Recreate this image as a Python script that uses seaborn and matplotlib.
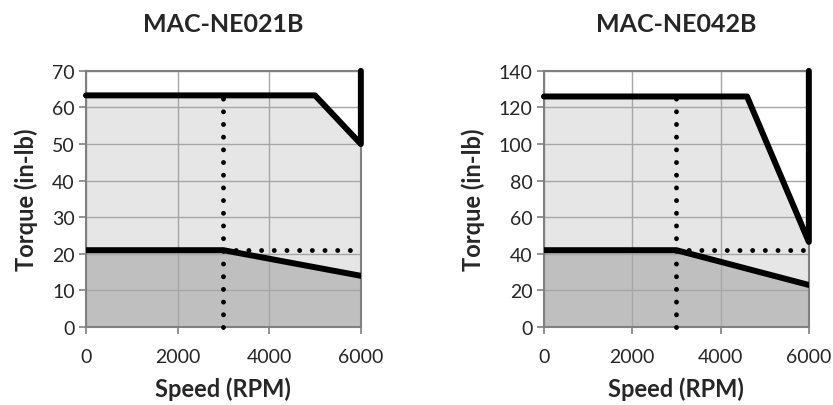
import numpy as np
import pandas as pd
import matplotlib
matplotlib.use('Agg')
import matplotlib.pyplot as plt
import seaborn as sns

titles = ['MAC-NE021B', 'MAC-NE042B']

# peak torque curve (last point closes the envelope up to the top of the axis)
peak_rpm = [[0, 5000, 6000, 6000], [0, 4600, 6000, 6000]]
peak_torque = [[63.3, 63.3, 50, 70], [126, 126, 46.5, 140]]

# continuous torque curve
cont_rpm = [[0, 3000, 6000], [0, 3000, 6000]]
cont_torque = [[21, 21, 14], [42, 42, 23]]

rated_rpm = [3000, 3000]
rated_line_top = [64, 128]

y_max = [70, 140]
y_step = [10, 20]
x_ticks = [0, 2000, 4000, 6000]

sns.set_style('white')
plt.rcParams['font.family'] = ['Lato', 'DejaVu Sans']

fig = plt.figure(figsize=(8.33, 4.06), dpi=100)
positions = [[0.1032, 0.192, 0.330, 0.631], [0.653, 0.192, 0.318, 0.631]]

for i in range(2):
    ax = fig.add_axes(positions[i])
    n_env = len(peak_rpm[i]) - 1
    ax.fill_between(peak_rpm[i][:n_env], peak_torque[i][:n_env], color='#e6e6e6', lw=0, zorder=1)
    ax.fill_between(cont_rpm[i], cont_torque[i], color='#bfbfbf', lw=0, zorder=1)

    ax.grid(True, color='#a6a6a6', lw=1.0, zorder=2)
    ax.set_axisbelow(False)

    sns.lineplot(x=peak_rpm[i], y=peak_torque[i], ax=ax, color='black', lw=4.3,
                 estimator=None, sort=False, zorder=4, clip_on=False)
    sns.lineplot(x=cont_rpm[i], y=cont_torque[i], ax=ax, color='black', lw=4.3,
                 estimator=None, sort=False, zorder=4)

    dots = (0, (0.01, 2.6))
    ax.plot([rated_rpm[i], rated_rpm[i]], [0, rated_line_top[i]], color='black', lw=3.5,
            linestyle=dots, dash_capstyle='round', zorder=5, clip_on=False)
    ax.plot([rated_rpm[i], x_ticks[-1]], [cont_torque[i][0], cont_torque[i][0]], color='black', lw=3.5,
            linestyle=dots, dash_capstyle='round', zorder=5)

    ax.set_xlim(0, 6000)
    ax.set_ylim(0, y_max[i])
    ax.set_xticks(x_ticks)
    ax.set_yticks(np.arange(0, y_max[i] + 1, y_step[i]))
    ax.tick_params(axis='both', direction='out', length=5, width=1.2, color='#808080',
                   labelsize=14, pad=3, bottom=True, left=True)
    ax.tick_params(axis='x', pad=10)
    for s in ax.spines.values():
        s.set_color('#808080')
        s.set_linewidth(1.5)
        s.set_zorder(3)

    ax.set_title(titles[i], fontsize=18, fontweight='bold', pad=29)
    ax.set_xlabel('Speed (RPM)', fontsize=17, fontweight='bold', labelpad=8)
    ax.set_ylabel('Torque (in-lb)', fontsize=17, fontweight='bold', labelpad=10)

fig.savefig('out.png', dpi=100)
